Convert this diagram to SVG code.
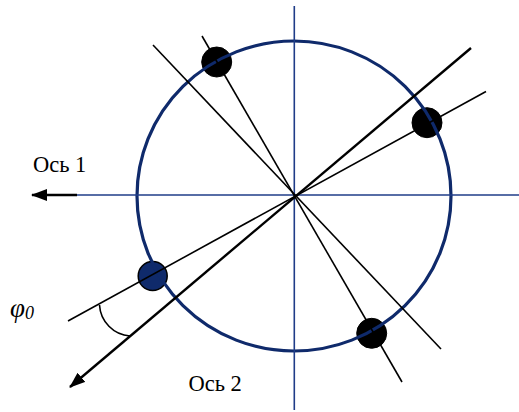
<svg xmlns="http://www.w3.org/2000/svg" width="519" height="412" viewBox="0 0 519 412">
<style>
.axis{stroke:#1F3C88;stroke-width:1.6;fill:none}
.ray{stroke:#000;stroke-width:1.6;fill:none}
.thick{stroke:#000;stroke-width:2.4;fill:none}
.ring{stroke:#0F2A6B;stroke-width:3.2;fill:none}
.lbl{font-family:"Liberation Serif","Times New Roman",serif;font-size:22.5px;fill:#000}
.phi{font-family:"Liberation Serif","Times New Roman",serif;font-size:27px;font-style:italic;fill:#000}
.sub{font-size:18px}
</style>
<defs>
<marker id="ah2" viewBox="0 0 16 12" refX="15" refY="6" markerWidth="16" markerHeight="12" orient="auto" markerUnits="userSpaceOnUse">
<path d="M0,0 L16,6 L0,12 Z" fill="#000"/>
</marker>
</defs>
<rect width="519" height="412" fill="#fff"/>
<g id="dots">
<g id="dot-top"><circle cx="216.7" cy="62" r="15" fill="#000" stroke="#000"/></g>
<g id="dot-right"><circle cx="427" cy="122.7" r="15" fill="#000" stroke="#000"/></g>
<g id="dot-bottom"><circle cx="371.7" cy="333.3" r="15" fill="#000" stroke="#000"/></g>
<g id="dot-left"><circle cx="152.7" cy="276" r="14.5" fill="#0F2A6B" stroke="#000" stroke-width="1.5"/></g>
</g>
<g id="ring"><ellipse cx="294" cy="196" rx="157" ry="155" class="ring"/></g>
<g id="connectors">
<line x1="294.3" y1="6" x2="294.3" y2="410" class="axis"/>
<line x1="77" y1="195" x2="519" y2="195" class="axis"/>
<line x1="77" y1="195" x2="32" y2="195" class="thick" marker-end="url(#ah2)"/>
<line x1="202" y1="36" x2="402" y2="382" class="ray"/>
<line x1="153" y1="45" x2="441" y2="349" class="ray"/>
<line x1="68" y1="321" x2="486" y2="91.5" class="ray"/>
<line x1="471" y1="48" x2="70" y2="387" class="thick" marker-end="url(#ah2)"/>
<path d="M99.5,305 A33,33 0 0 0 130,336" class="ray"/>
</g>
<g id="labels">
<text x="33" y="171.5" class="lbl">Ось 1</text>
<text x="188.5" y="390.5" class="lbl">Ось 2</text>
<text x="10" y="317" class="phi">φ<tspan class="sub" dy="2">0</tspan></text>
</g>
</svg>
